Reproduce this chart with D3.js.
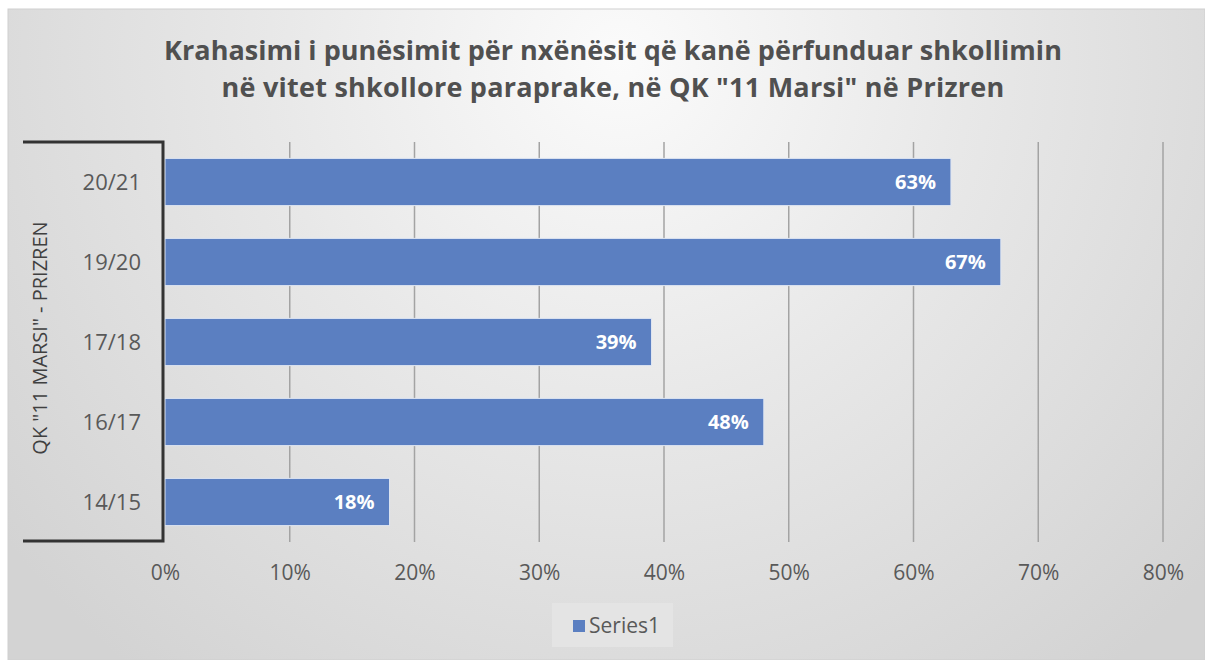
<!DOCTYPE html>
<html><head><meta charset="utf-8">
<script src="https://cdn.jsdelivr.net/npm/d3@7"></script>
<style>html,body{margin:0;padding:0;background:#fff;}svg{display:block;}</style>
</head><body>
<svg id="chart" width="1205" height="660"></svg>
<script>
const titleLines = ["Krahasimi i punësimit për nxënësit që kanë përfunduar shkollimin", "në vitet shkollore paraprake, në QK \"11 Marsi\" në Prizren"];
const categories = ["20/21", "19/20", "17/18", "16/17", "14/15"];
const values = [0.63, 0.67, 0.39, 0.48, 0.18];
const xTicks = [0, 0.1, 0.2, 0.3, 0.4, 0.5, 0.6, 0.7, 0.8];
const groupLabel = "QK \"11 MARSI\" - PRIZREN";
const seriesName = "Series1";

const FONT = "'Open Sans', Lato, sans-serif";
const svg = d3.select("#chart");
const defs = svg.append("defs");
const rg = defs.append("radialGradient").attr("id", "bg")
  .attr("gradientUnits", "userSpaceOnUse")
  .attr("cx", 620).attr("cy", 60).attr("r", 780);
rg.append("stop").attr("offset", "0").attr("stop-color", "#fbfbfb");
rg.append("stop").attr("offset", "0.45").attr("stop-color", "#e8e8e8");
rg.append("stop").attr("offset", "1").attr("stop-color", "#d3d3d3");

svg.append("rect").attr("x", 8).attr("y", 9).attr("width", 1197).attr("height", 651)
  .attr("fill", "url(#bg)").attr("stroke", "#cfcfcf").attr("stroke-width", 1);

const x = d3.scaleLinear().domain([0, 0.8]).range([165, 1163]);
const y = d3.scaleBand().domain(categories).range([142, 542]).paddingInner(0.41).paddingOuter(0.205);

// gridlines
svg.append("g").selectAll("line").data(xTicks.slice(1)).join("line")
  .attr("x1", d => x(d)).attr("x2", d => x(d))
  .attr("y1", 142).attr("y2", 542)
  .attr("stroke", "#a3a3a3").attr("stroke-width", 1.5);

// bars
svg.append("g").selectAll("rect").data(values).join("rect")
  .attr("x", x(0)).attr("y", (d, i) => y(categories[i]))
  .attr("width", d => x(d) - x(0)).attr("height", y.bandwidth())
  .attr("fill", "#5b7fc1").attr("stroke", "#dfe6f2").attr("stroke-width", 1);

// data labels
svg.append("g").selectAll("text").data(values).join("text")
  .attr("x", d => x(d) - 15).attr("y", (d, i) => y(categories[i]) + y.bandwidth() / 2)
  .attr("dy", "0.35em").attr("text-anchor", "end")
  .attr("font-family", FONT).attr("font-weight", "bold").attr("font-size", 20)
  .attr("fill", "#ffffff").text(d => d3.format(".0%")(d));

// bracket (category grouping)
const bx = x(0) - 2;
svg.append("path")
  .attr("d", `M23,142 H${bx} V541 H23`)
  .attr("fill", "none").attr("stroke", "#333").attr("stroke-width", 3);

// category labels
svg.append("g").selectAll("text").data(categories).join("text")
  .attr("x", 141).attr("y", d => y(d) + y.bandwidth() / 2).attr("dy", "0.35em")
  .attr("text-anchor", "end").attr("font-family", FONT).attr("font-size", 22)
  .attr("fill", "#595959").text(d => d);

// group label
svg.append("text").attr("transform", "translate(40,338) rotate(-90)")
  .attr("text-anchor", "middle").attr("dy", "0.35em")
  .attr("font-family", FONT).attr("font-size", 20).attr("fill", "#404040")
  .text(groupLabel);

// x axis
const xAxis = d3.axisBottom(x).tickValues(xTicks).tickFormat(d3.format(".0%")).tickSize(0).tickPadding(0);
const gx = svg.append("g").attr("transform", "translate(0,573)").call(xAxis);
gx.select(".domain").remove();
gx.selectAll("text").attr("dy", "0.35em").attr("font-family", FONT).attr("font-size", 21).attr("fill", "#595959");

// title
const titleWidths = [898, 783];
const tt = svg.append("g").selectAll("text").data(titleLines).join("text")
  .attr("x", 613).attr("y", (d, i) => 60 + i * 37)
  .attr("text-anchor", "middle").attr("font-family", FONT).attr("font-weight", "bold")
  .attr("font-size", 27).attr("fill", "#505050").text(d => d);
tt.each(function(d, i) {
  const w = this.getComputedTextLength();
  const ls = (titleWidths[i] - w) / d.length;
  d3.select(this).attr("letter-spacing", ls.toFixed(2));
});

// legend
const lg = svg.append("g");
lg.append("rect").attr("x", 552).attr("y", 603).attr("width", 121).attr("height", 44).attr("fill", "#e4e4e4");
lg.append("rect").attr("x", 573).attr("y", 620).attr("width", 12).attr("height", 12).attr("fill", "#5b7fc1");
lg.append("text").attr("x", 589).attr("y", 626).attr("dy", "0.35em")
  .attr("font-family", FONT).attr("font-size", 21).attr("fill", "#595959").text(seriesName);
</script>
</body></html>
